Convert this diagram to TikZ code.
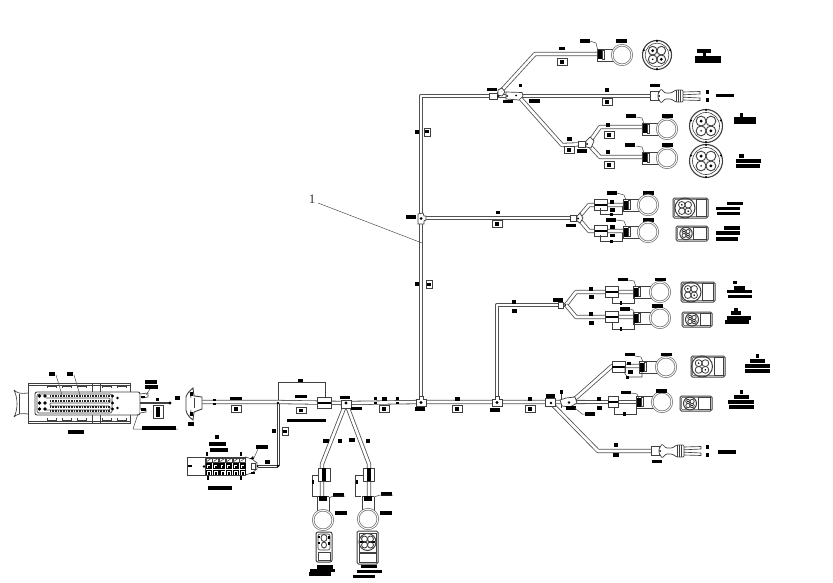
\documentclass[tikz,border=0pt]{standalone}
\usepackage{fontspec}
\setmainfont{Liberation Serif}
\usetikzlibrary{calc}
\tikzset{
  wire/.style={draw=black!68,line width=.8pt,double=white,double distance=2.6pt,line join=round},
  ln/.style={draw=black!75,line width=.65pt},
  leader/.style={draw=black!70,line width=.5pt},
  boxw/.style={draw=black!75,line width=.7pt,fill=white},
  ring/.style={draw=black!55,line width=.75pt,double=white,double distance=.9pt,fill=white},
}
\newcommand{\lbl}[4][3.6]{\fill[black] ({#2-#4/2},{#3-#1/2}) rectangle ({#2+#4/2},{#3+#1/2});}
\newcommand{\tagb}[2]{\draw[boxw] ({#1-5},{#2-3.2}) rectangle ({#1+5},{#2+3.2});\fill ({#1-1.8},{#2-1.8}) rectangle ({#1+1.8},{#2+1.8});}
\newcommand{\tagv}[2]{\draw[boxw] ({#1-3},{#2-4}) rectangle ({#1+3},{#2+4});\fill ({#1-2},{#2-1.5}) rectangle ({#1+2},{#2+1.5});}
\newcommand{\rcon}[3]{
  \draw[ln] (#1,{#2-6}) -- ({#3-8},{#2-6}) ({#1+1},{#2+6}) -- ({#3-8},{#2+6}) (#1,{#2-6}) -- (#1,{#2+6}) -- ({#1+1},{#2+6});
  \fill ({#1+.5},{#2-4.5}) rectangle ({#1+5},{#2+4.5});
  \draw[boxw,line width=.5pt] ({#1+5},{#2-4.5}) rectangle ({#1+7},{#2+4.5});
  \draw[ring] (#3,#2) circle[radius=9.8];}
\newcommand{\slv}[3]{
  \draw[boxw] (#1,{#3-5.5}) rectangle (#2,{#3+5.5});
  \fill (#1,{#3-1.4}) rectangle (#2,{#3+1.4});}
\newcommand{\brk}[3]{
  \draw[ln] (#1,{#3-6}) -- (#1,#3) -- (#2,#3) -- (#2,{#3-8});
  \fill ({(#1+#2)/2-1.4},{#3-1.5}) rectangle ({(#1+#2)/2+1.4},{#3+1.5});}
\newcommand{\rface}[3]{
  \draw[ln,line width=1.1pt,fill=white] (#1,#2) circle[radius=#3];
  \draw[ln,line width=.6pt] (#1,#2) circle[radius={#3*.82}];
  \foreach \a in {45,135,225,315}{
    \draw[ln,line width=.9pt] ($(#1,#2)+(\a:{#3*.42})$) circle[radius={#3*.3}];
  }
  \fill ($(#1,#2)+(225:{#3*.42})$) circle[radius=1.6];
  \fill ($(#1,#2)+(45:{#3*.42})$) circle[radius=1.6];
  \fill ($(#1,#2)+(135:{#3*.42})$) circle[radius=.9];
  \foreach \a in {90,200,270,340}{\fill ($(#1,#2)+(\a:{#3*.97})$) circle[radius=1.2];}
}
\newcommand{\rectface}[6]{
  \draw[ln,line width=1pt,rounded corners=1.5pt,fill=white] (#1,#2) rectangle (#3,#4);
  \draw[ln,line width=.5pt,rounded corners=1pt] ({#1+1.3},{#2+1.3}) rectangle ({#3-1.3},{#4-1.3});
  \draw[ln] ({#5+#6+1.5},{#2+1.6}) rectangle ({#3-2},{#4-1.6});
  \draw[ln,line width=1pt] (#5,{(#2+#4)/2}) circle[radius=#6];
  \foreach \a in {45,135,225,315}{
    \draw[ln,line width=.8pt] ($(#5,{(#2+#4)/2})+(\a:{#6*.45})$) circle[radius={#6*.33}];
  }
  \foreach \a in {45,225}{\fill ($(#5,{(#2+#4)/2})+(\a:{#6*.45})$) circle[radius=.9];}
}
\newcommand{\plug}[2]{
  \draw[boxw] (#1,{#2-4.5}) rectangle ({#1+8},{#2+4.5});
  \draw[boxw,rounded corners=1pt] ({#1+8},{#2-2}) -- ({#1+11},{#2-7}) -- ({#1+15},{#2-3}) -- ({#1+21},{#2-3}) -- ({#1+26},{#2-6}) -- ({#1+33},{#2-6}) -- ({#1+33},{#2+6}) -- ({#1+26},{#2+6}) -- ({#1+21},{#2+3}) -- ({#1+15},{#2+3}) -- ({#1+11},{#2+7}) -- ({#1+8},{#2+2}) -- cycle;
  \draw[ln] ({#1+26},{#2-6}) -- ({#1+26},{#2+6}) ({#1+28},{#2-6}) -- ({#1+28},{#2+6}) ({#1+30},{#2-6}) -- ({#1+30},{#2+6});
  \draw[ln] ({#1+33},{#2-4}) -- ({#1+50},{#2-4.5}) -- ({#1+50},{#2-2}) -- ({#1+33},{#2-1.2})
            ({#1+33},{#2+1.2}) -- ({#1+50},{#2+2}) -- ({#1+50},{#2+4.5}) -- ({#1+33},{#2+4});
  \fill ({#1+9},#2) circle[radius=1];
}
\begin{document}
\begin{tikzpicture}[x=1pt,y=-1pt,every node/.style={inner sep=0pt}]
\useasboundingbox[fill=white] (0,0) rectangle (833,583);

\coordinate (mainL) at (202,402);
\coordinate (tee) at (278,402);
\coordinate (teeB) at (278,466);
\coordinate (teeL) at (258,466);
\coordinate (jBot) at (346,403);
\coordinate (jTop) at (421,402);
\coordinate (jSec) at (497,402);
\coordinate (jR1) at (550,402);
\coordinate (jR2) at (569,402);
\coordinate (mainR) at (585,402);
\coordinate (jMid) at (421,218);
\coordinate (jMidR) at (578,218);
\coordinate (topC) at (421,96);
\coordinate (jA) at (497,96);
\coordinate (jB) at (518,96);
\coordinate (jC) at (588,144);
\coordinate (jS) at (566,305);

\draw[wire] (mainL) -- (tee) -- (jBot) -- (jTop) -- (jSec) -- (jR1) -- (jR2) -- (mainR);
\draw[wire] (jTop) -- (jMid) -- (topC) -- (jA) -- (jB) -- (652,96);
\draw[wire] (jMid) -- (jMidR);
\draw[wire] (jSec) -- (497,305) -- (jS);
\draw[ln,line width=.7pt] (277,404) -- (277,467) -- (258,467) (279.4,404) -- (279.4,465) -- (258,465);
\draw[wire] (jA) -- (502,90) -- (535,54) -- (598,54);
\draw[wire] (jB) -- (521,99) -- (562,145) -- (jC);
\draw[wire] (jC) -- (600,127) -- (642,127);
\draw[wire] (jC) -- (600,157) -- (642,157);
\draw[wire] (jMidR) -- (589,205) -- (624,205);
\draw[wire] (jMidR) -- (589,231) -- (624,231);
\draw[wire] (jS) -- (576,292) -- (634,292);
\draw[wire] (jS) -- (576,317) -- (634,317);
\draw[wire] (jR2) -- (577,397) -- (612,366) -- (640,366);
\draw[wire] (jR2) -- (637,402);
\draw[wire] (jR1) -- (598,451) -- (652,451);
\draw[wire] (jBot) -- (322,464) -- (322,497);
\draw[wire] (jBot) -- (369,464) -- (369,497);

\node[font=\fontsize{13}{13}\selectfont,text=black!80] (one) at (312,199) {1};
\coordinate (oneTip) at (422,243);
\draw[leader] (318,203) -- (oneTip);

% big connector
\draw[ln] (14,390) .. controls (17,393) and (20,394) .. (28,393) (14,417) .. controls (17,414) and (20,413) .. (28,414) (14,390) .. controls (18,398) and (18,410) .. (14,417);
\draw[ln] (19,393.5) -- (19,413.5);
\draw[ln,line width=.9pt] (28,383) rectangle (130,423);
\draw[ln] (28,385) -- (130,385) (28,421) -- (130,421);
\draw[ln] (92,383) -- (92,423) (100,383) -- (100,423);
\foreach \x in {47,62,77,102,117}{
  \draw[ln] (\x,386) -- (\x+9,386) -- (\x+9,388) (\x,386) -- (\x,388);
  \draw[ln] (\x,420) -- (\x+9,420) -- (\x+9,418) (\x,420) -- (\x,418);
}
\draw[ln,fill=white,line width=.9pt,rounded corners=2pt] (35,392) -- (140,392) -- (140,415) -- (35,415) -- cycle;
\draw[ln,rounded corners=2pt] (37,394) rectangle (112,413);
\draw[ln,rounded corners=1pt] (46,398) -- (110,398) -- (110,403) -- (50,403) -- (50,406) -- (110,406) -- (110,410) -- (46,410);
\foreach \y in {396,401,406.5,411}{
  \draw[draw=black!85,line width=2pt,dash pattern=on 1pt off .6pt] (50,\y) -- (110,\y);
}
\foreach \x in {39.5,45}{\foreach \y in {396,403,409}{\fill (\x,\y) circle[radius=1.8];}}
\foreach \y in {396,403,409}{\fill (112.5,\y) circle[radius=1.7];}
\foreach \y in {398,408}{\fill (117.5,\y) circle[radius=1.3];}
\draw[ln,fill=white] (140,394) -- (148,393) -- (148,397) -- (142,398) (140,409) -- (146,409) -- (146,412) -- (140,413);
\fill (141,396) rectangle (145,398); \fill (141,408) rectangle (146,411);
\draw[ln,line width=1.1pt] (140,403) -- (171,403);
\fill (170,403) circle[radius=1.6];
\lbl[4]{52}{374}{6}\lbl[4]{70}{374}{6}
\draw[leader] (56,375) -- (62,395) (74,375) -- (80,395);
\lbl{151}{382}{12}\lbl{151}{387}{13}
\draw[leader] (150,389) -- (146,395);
\lbl{76}{432}{16}
\draw[leader] (133,429) -- (178,429) (133,429) -- (138,414);
\lbl{159}{428}{34}
\lbl{157}{399.5}{3}
\draw[boxw] (153,405) rectangle (163,418); \fill (156,406.5) rectangle (160,416.5);
\lbl{177}{398}{5}
% back shell
\draw[ln,fill=white,line width=.9pt] (193,388) .. controls (188,392) and (185,396) .. (186,400) -- (186,407) .. controls (185,411) and (188,417) .. (193,420) -- (194,412) -- (202,409) -- (202,397) -- (194,396) -- cycle;
\draw[ln] (190,392) -- (191,398) (190,416) -- (191,410);
\fill (190,392) rectangle (193,396); \fill (190,412) rectangle (193,416);
\draw[ln] (194,398) -- (194,408);
\lbl[4]{191}{424}{6}
\lbl[2.5]{214}{400}{3}\lbl[2.5]{214}{404}{3}
\lbl{236}{398.5}{12}
\tagb{236}{409}

% lower multi connector
\draw[boxw,line width=.9pt] (187,457) rectangle (245,475);
\draw[ln] (205,457) -- (205,475);
\lbl[1.2]{190}{466}{4}
\foreach \i in {0,...,5}{
  \pgfmathsetmacro{\xa}{206+6.7*\i}
  \draw[ln,line width=.5pt] (\xa,458) rectangle (\xa+6,462);
  \draw[ln,line width=.6pt] (\xa+1,461.4) -- (\xa+5,458.6);
  \fill (\xa,463) rectangle (\xa+6,469);
  \draw[white,line width=.5pt] (\xa+1.5,468) -- (\xa+1.5,465) -- (\xa+4,465);
  \fill (\xa,469.5) rectangle (\xa+6,475);
  \draw[white,line width=.6pt] (\xa+1.5,475) -- (\xa+1.5,471) -- (\xa+4.5,471) -- (\xa+4.5,475);
}
\draw[ln] (245,457) -- (252,459) -- (257,463) -- (257,469) -- (252,473) -- (245,475);
\draw[ln] (251,463) rectangle (255,469);
\fill (250,459) -- (253,456) -- (254,459) -- cycle; \fill (251,472) rectangle (255,474);
\fill (204,466.5) circle[radius=1.4]; \fill (257.5,466) circle[radius=1];
\foreach \x in {207,241}{\fill ({\x-1},452) rectangle ({\x+1},456);}
\foreach \x in {208,241}{\fill ({\x-1},476) rectangle ({\x+1},480);}
\lbl{217}{437}{4}\lbl{217}{444}{17}\lbl{219}{450}{18}
\lbl{262}{447}{12}
\draw[leader] (258,449) -- (254,458);
\lbl{267}{462}{5}
\lbl{220}{488}{24}

% bracket over the main wire
\draw[ln] (278,400) -- (278,382) -- (325,382) -- (325,398);
\lbl{300}{380.5}{5}
\lbl{301}{396.5}{12}
\tagb{301}{410.5}
\lbl{306}{420.5}{39}
\slv{317.5}{331}{403}
\fill (278,403) circle[radius=1.4];
\fill (278,466) circle[radius=1.4];
\tagv{285}{431}
\lbl[4]{274}{431}{4}

% bottom group
\draw[boxw] (341,400) rectangle (351,408);
\fill (346,403) circle[radius=1.6];
\lbl{345}{397.5}{10}
\lbl{356}{408.5}{11}
\lbl[4]{326}{441}{6}\lbl[4]{339.5}{441}{4}
\lbl[4]{352}{440}{6}\lbl[4]{368}{441}{4}
\draw[boxw] (318,468) rectangle (330,481);
\fill (322,468) rectangle (326,481);
\draw[boxw] (363,468) rectangle (374,481);
\fill (366.5,468) rectangle (370.5,481);
\draw[ln] (318,475) -- (312,475) -- (312,496) -- (317,496);
\lbl[4]{313}{482}{2}
\draw[ln] (363,475) -- (355.5,475) -- (355.5,496) -- (361,496);
\lbl[4]{357}{482}{2}
\foreach \x in {323,368}{
  \draw[ln] ({\x-6},497) -- ({\x-6},512) ({\x+6},497) -- ({\x+6},512) ({\x-6},496) -- ({\x+6},496);
  \fill ({\x-4},495.5) rectangle ({\x+4},501);
}
\draw[ring] (323,520) circle[radius=9.8];
\draw[ring] (368,519) circle[radius=9.8];
\lbl{338}{495}{11}\lbl{386}{494}{11}
\draw[leader] (329,498) -- (333,496) -- (345,496);
\draw[leader] (374,497) -- (380,495) -- (393,495);
\lbl{341}{513}{12}\lbl{386}{513}{12}
\draw[ln,line width=1pt,rounded corners=2pt,fill=white] (316,532) rectangle (332,562);
\draw[ln,rounded corners=2pt] (318,534) rectangle (330,550);
\draw[ln,line width=.9pt] (324,538) ellipse[x radius=3,y radius=3.5];
\draw[ln,line width=.9pt] (324,545) ellipse[x radius=2.5,y radius=3];
\fill (328,536) rectangle (330,539); \fill (328,542) rectangle (330,545);
\fill (318,536) rectangle (320,538); \fill (318,542) rectangle (320,544);
\draw[ln] (318,552) rectangle (330,560);
\draw[ln,line width=1pt,rounded corners=1.5pt,fill=white] (357,531) rectangle (378,564);
\draw[ln] (359,533) rectangle (376,552);
\draw[ln,line width=1pt] (367.5,542) circle[radius=8.5];
\foreach \a in {45,135,225,315}{\draw[ln,line width=.9pt] ($(367.5,542)+(\a:4.2)$) circle[radius=3];}
\fill (360,541) -- (375,543) -- (375,541) -- (360,543) -- cycle;
\draw[ln] (359,553) rectangle (376,562);
\lbl{325}{567}{16}\lbl{322}{570.5}{25}\lbl{320}{574}{22}
\lbl{369}{566.5}{16}\lbl{369}{571.5}{25}\lbl{364}{576.5}{22}

% marks on main wire
\lbl[2.5]{375.5}{398.5}{3}\lbl[2.5]{375.5}{403}{3}
\lbl[2.5]{397.5}{398.5}{3}\lbl[2.5]{397.5}{403}{3}
\lbl{384}{399}{5}
\tagb{384}{409}
\draw[boxw] (416,399) -- (419,399) -- (419,396) -- (423,396) -- (423,399) -- (426,399) -- (426,406) -- (416,406) -- cycle;
\fill (421,402.5) circle[radius=1.6];
\lbl{420}{409}{10}
\lbl{457}{399}{5}
\tagb{457}{409}
\draw[boxw] (492,399) -- (495,399) -- (495,396) -- (499,396) -- (499,399) -- (502,399) -- (502,406) -- (492,406) -- cycle;
\fill (497,402.5) circle[radius=1.6];
\lbl{495}{410}{10}
\lbl{530}{399}{4}
\tagb{530}{409}
\draw[boxw] (545,398) rectangle (555,406);
\fill (551,403) circle[radius=1.3];
\lbl{550}{396}{9}
\lbl[4]{561}{392}{3}
\draw[ln] (561,394) -- (561,408);
\draw[boxw] (560,400) -- (566,398) -- (575,397) -- (577,403) -- (570,407) -- (562,406) -- cycle;
\fill (569,402.5) circle[radius=1.4];
\lbl{571}{408}{10}
\draw[leader] (575,408) -- (582,414) -- (590,414);
\lbl{590}{414}{10}

% tags on verticals
\lbl[3.5]{417}{132}{4}\tagv{427}{132}
\lbl[3.5]{417}{284}{4}\tagv{429}{284}
\draw[boxw] (418,214) -- (423,213) -- (424,216) -- (426,216) -- (426,220) -- (424,221) -- (424,224) -- (418,224) -- cycle;
\fill (421,218.5) circle[radius=1.5];
\lbl{411}{217}{10}
\lbl[3]{498}{212.5}{4}
\tagb{497}{224}

% top group
\draw[boxw] (489,93.5) rectangle (497,99);
\draw[boxw] (498,90) -- (502,88) -- (505,92) -- (502,96) -- (498,95) -- cycle;
\draw[boxw] (506,92) -- (522,92.5) -- (523,96) -- (519,100) -- (506,99) -- cycle;
\fill (498,96) circle[radius=1]; \fill (507,96) circle[radius=1]; \fill (516,95.5) circle[radius=1];
\lbl{492}{89.5}{10}\lbl{508}{101.5}{10}\lbl{534}{101}{11}\lbl{520}{85.5}{3}
\lbl{562}{48.5}{6}\tagb{562}{62}
\lbl{607}{90}{4}\tagb{607}{102}
\lbl{569}{139}{5}\tagb{569}{150}
\lbl{608}{125}{4}\tagb{609}{135}
\lbl{608}{152}{4}\tagb{609}{165}
\draw[boxw] (578,141.5) rectangle (585,147);
\draw[boxw] (586,141) -- (590,137) -- (594,141) -- (591,148) -- (586,147) -- cycle;
\fill (587,144) circle[radius=1];
\lbl{582}{151}{10}
\rcon{597}{55}{622}
\rcon{642}{129}{667}
\rcon{642}{158}{667}
\lbl{585}{41}{10}\draw[leader] (590,41) -- (596,43) -- (598,51);
\lbl{621}{41}{11}
\lbl{631}{116}{10}\draw[leader] (636,117) -- (642,118) -- (644,124);
\lbl{667}{116}{11}
\lbl{630}{145}{10}\draw[leader] (636,146) -- (642,147) -- (644,153);
\lbl{667}{145}{11}
\plug{650}{96}
\lbl{655}{85.5}{10}
\lbl[3.5]{707}{92}{3}\lbl[3.5]{707}{100}{3}
\lbl{725}{95.5}{18}
\rface{657}{55}{14.5}
\rface{706}{126}{16.5}
\rface{706}{161}{16.5}
\lbl{704}{51}{14}\fill (703,52) rectangle (706,57);\lbl[7]{708}{60}{26}
\lbl{741}{115}{3}\lbl[7]{745}{121}{22}
\lbl{741}{156}{5}\lbl{748}{161}{25}\lbl{748}{166}{24}

% middle group
\draw[boxw] (570,215.5) rectangle (576,221);
\draw[boxw] (577,216) -- (580,213) -- (583,218) -- (580,223) -- (577,221) -- cycle;
\fill (578,218.5) circle[radius=1];
\lbl{571}{225.5}{10}
\slv{594.5}{607}{205}\slv{594.5}{607}{231}
\lbl{612}{193}{10}\lbl{648.5}{193}{11}
\draw[leader] (617,193) -- (624,195) -- (626,200);
\lbl[3.5]{612}{202}{4}\lbl[3.5]{612}{210}{5}
\lbl{612}{227}{5}\lbl[3.5]{612}{235.5}{5}
\lbl{611}{220}{10}\lbl{648}{220}{11}
\draw[leader] (616,220) -- (624,221) -- (626,226);
\rcon{623}{205}{648}
\rcon{623}{232}{648}
\brk{600.5}{622}{214}
\brk{600.5}{622}{241}
\rectface{673}{198}{708}{218}{685}{10}
\rectface{676}{226}{708}{241}{686}{6.2}
\lbl{735}{203.5}{16}\lbl{728}{208.5}{24}\lbl{728}{213.5}{23}
\lbl{732}{228}{16}\lbl{728}{233}{24}\lbl{727}{239}{22}

% second group
\draw[boxw] (558,302) rectangle (563,308);
\fill (565,305) circle[radius=1];
\lbl{558}{300}{10}
\lbl[4]{514}{301.5}{4}\lbl[4]{514.5}{311}{5}
\lbl[4]{590.5}{289}{4}\lbl[4]{591}{297}{5}
\lbl[4]{590.5}{314}{4}\lbl[4]{591}{323}{5}
\slv{605.5}{618}{292}\slv{605.5}{618}{317}
\draw[ln] (612,297) -- (612,303) -- (634,303) -- (634,297);
\fill (620,301) rectangle (622,305);
\draw[ln] (612,322) -- (612,329) -- (634,329) -- (634,323);
\fill (620,327) rectangle (622,331);
\rcon{633}{292}{660}
\rcon{633}{318}{660}
\lbl{623}{279.5}{10}\draw[leader] (628,280) -- (634,281) -- (636,287);
\lbl{660}{279.5}{11}
\lbl{625}{309}{10}\lbl{657}{306}{11}
\draw[leader] (630,309) -- (633,310) -- (635,314);
\rectface{681}{282}{715}{302}{691}{10}
\rectface{682}{312}{712}{327}{692}{6.5}
\lbl{735}{282.5}{3.5}\lbl{739}{288}{11}\lbl{739}{291.5}{25}\lbl{740}{296.5}{24}
\lbl{736}{309.5}{3.5}\lbl{736}{313}{10}\lbl[4]{739}{318}{24}\lbl[3.5]{737}{322}{24}

% lower group
\slv{612}{625}{367}
\draw[ln] (625,366) -- (625,374) -- (628,377) -- (642,377) -- (642,372);
\lbl[3]{629}{363.5}{4}\lbl[4]{630}{372}{5}
\fill (626,376) rectangle (629,379);
\rcon{639}{367}{666}
\lbl{630}{354.5}{10}\lbl{666}{354.5}{11}
\draw[leader] (635,356) -- (641,357) -- (643,362);
\slv{608}{618}{402}
\draw[ln] (614,407) -- (614,414) -- (636,414) -- (636,408);
\fill (623,412) rectangle (626,416);
\lbl[3.5]{599}{399}{4}\lbl[4]{599}{408}{5}
\rcon{636}{402}{662}
\lbl{626}{392.5}{10}\lbl{661}{391}{11}
\draw[leader] (631,393) -- (637,394) -- (639,398);
\lbl{616}{445}{4}\lbl{616}{455}{6}
\plug{651}{451}
\lbl{657}{461.5}{10}
\lbl[3.5]{707}{447}{3}\lbl[3.5]{707}{455}{3}
\lbl{727}{452}{18}
\rectface{691}{356}{725}{377}{702}{10.5}
\rectface{680}{396}{712}{411}{690}{6.5}
\lbl{757}{356}{3}\lbl{757}{361}{15}\lbl{757}{366}{25}\lbl{757}{371}{25}
\lbl{741}{392}{3}\lbl{741}{397}{15}\lbl{741}{402}{26}\lbl{741}{407}{25}
\end{tikzpicture}
\end{document}
